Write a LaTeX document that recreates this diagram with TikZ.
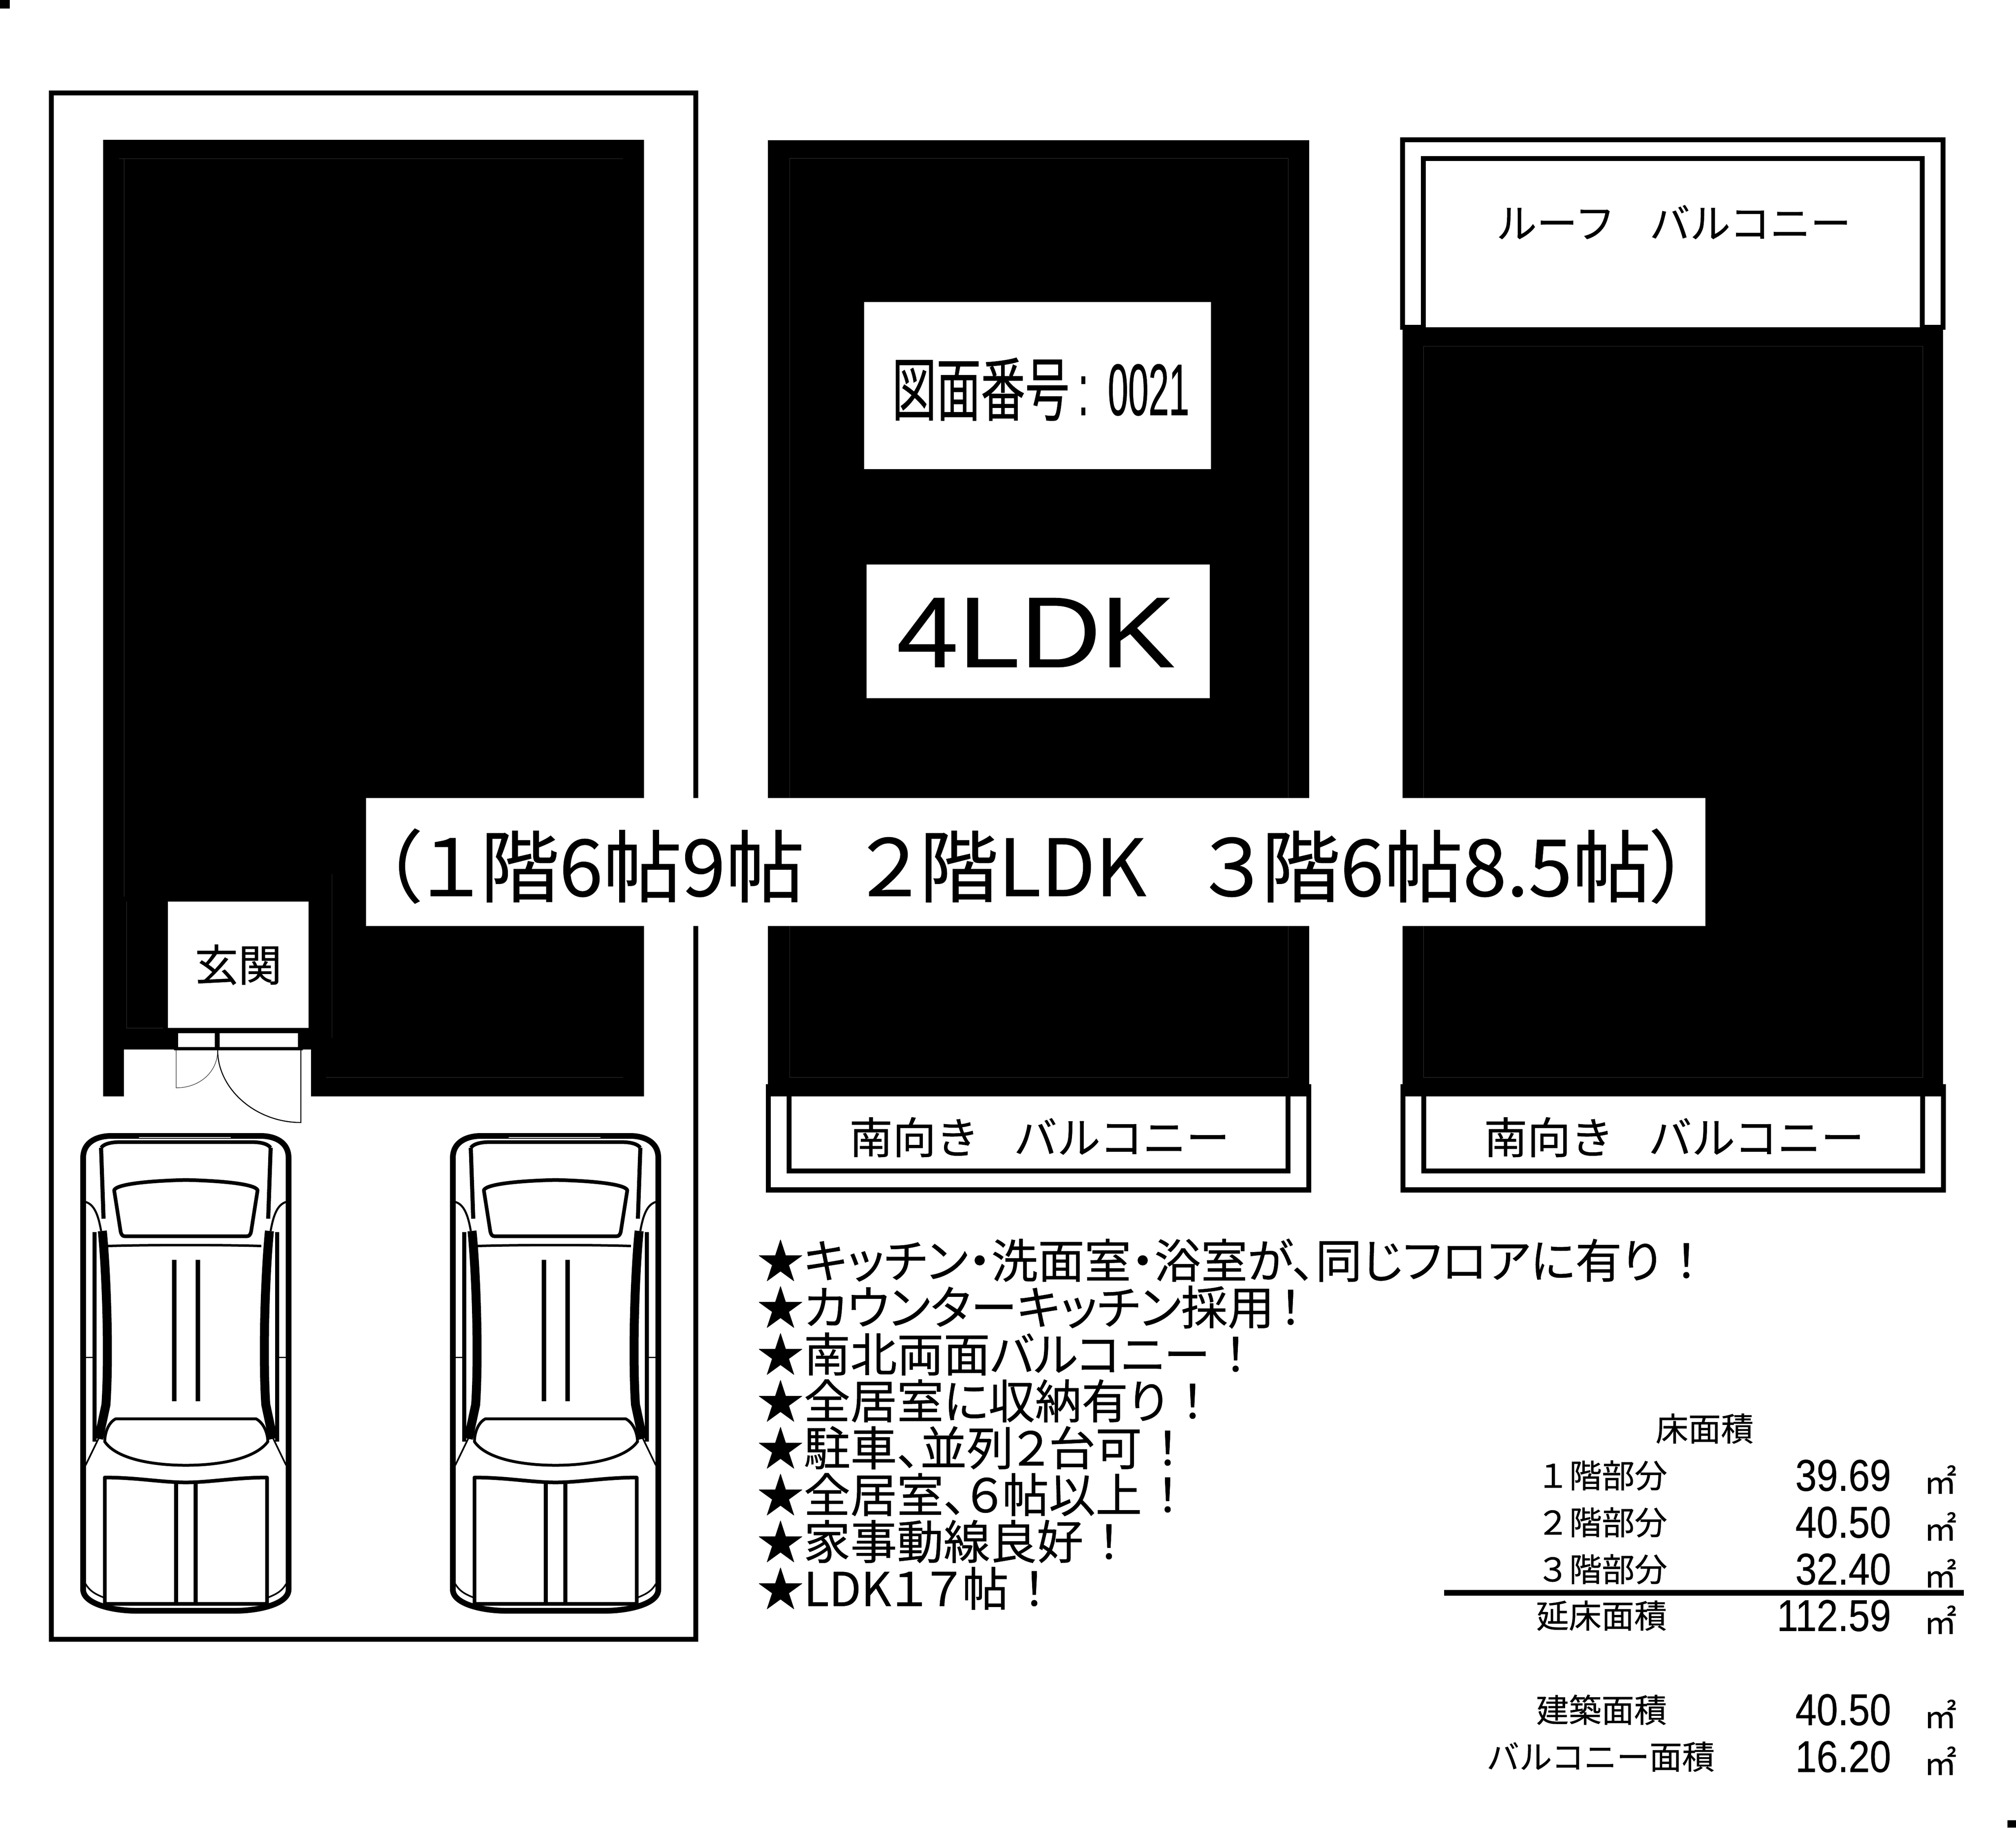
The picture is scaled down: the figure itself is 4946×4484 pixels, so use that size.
\documentclass[tikz,border=0pt]{standalone}
\usepackage{fontspec}
\setmainfont[FakeBold=0.5]{Noto Sans CJK JP}
\newfontfamily\listfont[RawFeature=+palt,FakeBold=0.5]{Noto Sans CJK JP}
\newfontfamily\numfont[FakeStretch=0.86,FakeBold=0.5]{Liberation Sans}
\newfontfamily\plannofont[FakeStretch=0.64,FakeBold=0.5]{Noto Sans CJK JP}
\newfontfamily\plandigitfont[FakeStretch=0.5,FakeBold=0.5]{Liberation Sans}
\newfontfamily\typefont[FakeStretch=1.11,FakeBold=0.5]{Liberation Sans}
\begin{document}
\begin{tikzpicture}[x=0.01cm,y=-0.01cm,
				every node/.style={inner sep=0pt,text=black},
				hairline/.style={draw=black!80,line width=0.01cm},
				label/.style={font=\fontsize{22.8pt}{24pt}\selectfont},
				area/.style={font=\numfont\fontsize{31pt}{32pt}\selectfont,anchor=east},
				unit/.style={font=\fontsize{22.8pt}{24pt}\selectfont},
				balcony/.style={font=\fontsize{30.2pt}{31pt}\selectfont},
				point/.style={anchor=west,font=\listfont\fontsize{32.5pt}{34pt}\selectfont},
				carline/.style={line width=0.09cm,line join=round},
				pics/carside/.style={code={
					\draw[line width=0.1cm] (-208,116) -- (-202,290);
					\draw[line width=0.22cm] (-205,320) .. controls (-195,420) and (-188,620) .. (-196,746) -- (-214,830);
					\draw[line width=0.1cm] (-224,323) -- (-224,837);
					\draw[line width=0.04cm] (-246,895) -- (-200,800);
					\draw[line width=0.05cm] (-246,249) .. controls (-225,255) and (-215,280) .. (-208,320);
					\draw[line width=0.03cm] (-259,630) -- (-226,630);
					\draw[line width=0.04cm] (-246,1186) .. controls (-235,1205) and (-220,1212) .. (-200,1220);
				}},
				pics/carplan/.style={code={
					\draw[line width=0.14cm] (-252,141) .. controls (-252,100) and (-215,87) .. (-184,87) -- (184,87) .. controls (215,87) and (252,100) .. (252,141) -- (252,1200) .. controls (252,1235) and (180,1252) .. (121,1252) -- (-121,1252) .. controls (-180,1252) and (-252,1235) .. (-252,1200) -- cycle;
					\draw[line width=0.09cm] (-208,116) .. controls (-200,105) and (-180,102) .. (-160,102) -- (160,102) .. controls (180,102) and (200,105) .. (208,116);
					\draw[white,line width=0.02cm] (-115,91) -- (110,91);
					\draw[carline] (-176,220) .. controls (-170,205) and (-90,197) .. (0,195) .. controls (90,197) and (170,205) .. (176,220) -- (160,322) .. controls (158,330) and (155,333) .. (150,333) -- (-150,333) .. controls (-155,333) and (-158,330) .. (-160,322) -- cycle;
					\draw[line width=0.06cm] (-191,357) .. controls (-90,354) and (90,354) .. (185,357);
					\draw[line width=0.11cm] (-29,391) -- (-29,738);
					\draw[line width=0.11cm] (29,391) -- (29,738);
					\draw[line width=0.07cm] (-172,781) -- (172,781) .. controls (190,790) and (201,815) .. (201,837) .. controls (170,880) and (80,895) .. (0,895) .. controls (-80,895) and (-170,880) .. (-199,837) .. controls (-199,815) and (-190,790) .. (-172,781) -- cycle;
					\draw[carline] (-199,1235) -- (-199,925) .. controls (-120,925) and (-60,937) .. (0,937) .. controls (60,937) and (120,925) .. (199,925) -- (199,1235) -- cycle;
					\draw[line width=0.1cm] (-24,937) -- (-24,1235);
					\draw[line width=0.1cm] (24,937) -- (24,1235);
					\pic {carside};
					\pic[xscale=-1] {carside};
				}}]
\useasboundingbox (0,0) rectangle (4946,4484);
\fill[white] (0,0) rectangle (4946,4484);
\fill[black] (0,0) rectangle (24,21);
\draw[line width=0.12cm] (126,228) rectangle (1707,4022);

\fill[black] (253,343) rectangle (1580,2690);
\fill[white] (304,2575) rectangle (763,2700);
\fill[black] (427,2569) rectangle (743,2577);
\draw[hairline] (292,389) -- (1528,389);
\draw[hairline] (800,2643) -- (1528,2643);
\draw[hairline] (304,389) -- (304,2200);
\draw[hairline] (400,2522) -- (310,2522) -- (310,2212);
\draw[hairline] (814,2145) -- (814,2546);
\node[fill=white,minimum width=3.45cm,minimum height=3.1cm,label] (entrance) at (584.5,2367) {\fontsize{30.4pt}{32pt}\selectfont 玄関};
\fill[white] (437,2535) rectangle (527,2569);
\fill[white] (539,2535) rectangle (731,2569);
\draw[black!70,line width=0.015cm] (432,2577) -- (432,2669) .. controls (490,2669) and (534,2630) .. (534,2577);
\draw[line width=0.025cm] (738,2577) -- (738,2754) .. controls (625,2754) and (534,2670) .. (534,2577);

\fill[black] (1884,344) rectangle (3212,2660);
\draw[hairline] (1937,388) rectangle (3160,2643);
\fill[black] (1879,2660) rectangle (3217,2926);
\fill[white] (1891,2690) rectangle (3205,2913);
\fill[black] (1930,2690) rectangle (3166,2879);
\fill[white] (1942,2690) rectangle (3154,2867);
\node[balcony] (south2) at (2550,2790) {南向き\hspace{0.8em}バルコニー};
\node[fill=white,minimum width=8.51cm,minimum height=4.1cm] (plannobox) at (2545.5,946) {};
\node[font=\fontsize{48.4pt}{50pt}\selectfont] (planno) at (2553,955) {{\plannofont 図面番号}\hspace{6pt}{\plandigitfont\fontsize{51pt}{53pt}\selectfont :\hspace{13.6pt}0021}};
\node[fill=white,minimum width=8.42cm,minimum height=3.28cm] (typebox) at (2547,1549) {};
\node[font=\typefont\fontsize{70pt}{72pt}\selectfont] (roomtype) at (2541,1552) {4LDK};

\fill[black] (3441,803) rectangle (4767,2660);
\draw[hairline] (3492,849) rectangle (4717,2643);
\fill[black] (3435,337) rectangle (4773,809);
\fill[white] (3447,349) rectangle (4761,797);
\fill[black] (3486,383) rectangle (4722,803);
\fill[white] (3498,395) rectangle (4710,803);
\node[font=\fontsize{28.2pt}{29pt}\selectfont] (roof) at (4106,545) {ルーフ\hspace{0.85em}バルコニー};
\fill[black] (3436,2660) rectangle (4774,2926);
\fill[white] (3448,2690) rectangle (4762,2913);
\fill[black] (3487,2690) rectangle (4723,2879);
\fill[white] (3499,2690) rectangle (4711,2867);
\node[balcony] (south3) at (4107,2790) {南向き\hspace{0.8em}バルコニー};

\node[fill=white,minimum width=32.84cm,minimum height=3.13cm] (roomsbox) at (2541,2115) {};
\node[font=\listfont\fontsize{55pt}{57pt}\selectfont] (rooms) at (2541,2125) {（１階6帖9帖\hspace{0.7em}２階LDK\hspace{0.7em}３階6帖8.5帖）};

\pic at (456,2700) {carplan};
\pic at (1363,2700) {carplan};

\node[point] (point1) at (1857,3092) {★キッチン・洗面室・浴室が、同じフロアに有り\hspace{0.3em}！};
\node[point] (point2) at (1857,3207) {★カウンターキッチン採用\hspace{0.1em}！};
\node[point] (point3) at (1857,3322) {★南北両面バルコニー\hspace{0.3em}！};
\node[point] (point4) at (1857,3437) {★全居室に収納有り\hspace{0.3em}！};
\node[point] (point5) at (1857,3552) {★駐車、並列２台可\hspace{0.3em}！};
\node[point] (point6) at (1857,3667) {★全居室、６帖以上\hspace{0.3em}！};
\node[point] (point7) at (1857,3782) {★家事動線良好\hspace{0.3em}！};
\node[point] (point8) at (1857,3897) {★LDK１７帖\hspace{0.3em}！};

\node[label] (floorarea) at (4182,3505) {床面積};
\node[label] (floor1) at (3930,3620) {１階部分};
\node[area] (area1) at (4640,3620) {39.69};
\node[unit] (unit1) at (4760,3630) {㎡};
\node[label] (floor2) at (3930,3735) {２階部分};
\node[area] (area2) at (4640,3735) {40.50};
\node[unit] (unit2) at (4760,3745) {㎡};
\node[label] (floor3) at (3930,3850) {３階部分};
\node[area] (area3) at (4640,3850) {32.40};
\node[unit] (unit3) at (4760,3860) {㎡};
\fill[black] (3543,3901) rectangle (4818,3915);
\node[label] (total) at (3929,3964) {延床面積};
\node[area] (area4) at (4640,3964) {112.59};
\node[unit] (unit4) at (4760,3974) {㎡};
\node[label] (building) at (3929,4195) {建築面積};
\node[area] (area5) at (4640,4195) {40.50};
\node[unit] (unit5) at (4760,4205) {㎡};
\node[label] (balconyarea) at (3927,4310) {バルコニー面積};
\node[area] (area6) at (4640,4310) {16.20};
\node[unit] (unit6) at (4760,4320) {㎡};
\fill[black] (4925,4466) rectangle (4946,4484);
\end{tikzpicture}
\end{document}
